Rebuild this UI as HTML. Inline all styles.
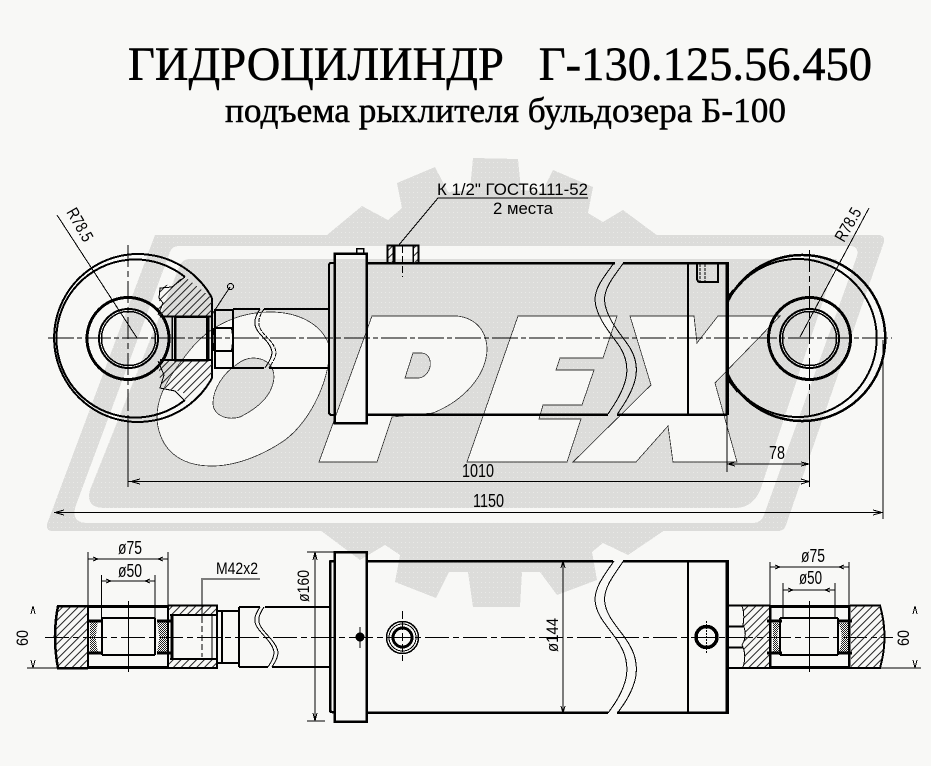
<!DOCTYPE html>
<html><head><meta charset="utf-8"><style>html,body{margin:0;padding:0;background:#f8f8f6}svg{display:block}</style></head><body>
<svg xmlns="http://www.w3.org/2000/svg" width="931" height="766" viewBox="0 0 931 766" shape-rendering="crispEdges">
<defs>
<pattern id="d" width="4" height="5" patternUnits="userSpaceOnUse"><rect width="4" height="5" fill="#dcdcda"/><rect x="1" y="2" width="1" height="1" fill="#e9e9e7"/></pattern>
<pattern id="h" width="5.5" height="5.5" patternUnits="userSpaceOnUse" patternTransform="rotate(45)"><rect width="1" height="5.5" fill="#222"/></pattern>
<pattern id="x" width="2" height="2" patternUnits="userSpaceOnUse"><rect width="1" height="1" fill="#222"/><rect x="1" y="1" width="1" height="1" fill="#222"/></pattern>
</defs>
<rect width="931" height="766" fill="#f8f8f6"/>
<!-- watermark -->
<path fill="url(#d)" d="M327,235 L362,206 L388,220 L402,208 L397,183 L435,167 L448,192 L470,190 L473,158 L518,159 L521,190 L542,192 L553,170 L593,187 L588,213 L603,222 L623,210 L658,236 Z"/>
<path fill="url(#d)" d="M320,530 L360,560 L385,545 L400,555 L395,582 L436,598 L449,572 L468,572 L473,607 L520,607 L522,572 L540,572 L557,595 L597,580 L592,552 L603,543 L628,555 L665,530 Z"/>
<path fill="url(#d)" d="M155,235 H878 Q885,235 884,242 L786,525 Q784,531 778,531 H52 Q46,531 47,524 Z"/>
<path fill="#f8f8f6" d="M180,246 H850 Q859,246 857,256 L764,515 Q761,523 752,523 H88 Q70,523 76,505 L170,252 Q172,246 180,246 Z"/>
<path fill="url(#d)" d="M190,259 H837 L762,485 Q755,508 735,508 H105 Q85,508 90,490 L180,265 Q183,259 190,259Z"/>
<g fill="#f8f8f6" stroke="#333" stroke-width=".8">
<path d="M270,312 C300,312 322,325 329,345 C332,375 312,420 285,440 C262,456 235,466 212,466 C180,466 160,450 157,420 C156,395 170,375 190,350 C210,325 240,312 270,312 Z"/>
<path fill="url(#d)" d="M253,358 C268,358 274,368 274,377 C273,395 258,408 240,417 C225,421 213,414 213,403 C213,388 225,372 236,365 C242,360 248,358 253,358 Z"/>
<path d="M372,316 H457 C475,318 487,330 487,350 C486,375 465,400 433,413 L392,417 L377,462 H319 Z"/>
<path fill="url(#d)" d="M413,353 H422 C430,354 431,362 430,367 C428,375 422,378 418,378 H405 Z"/>
<path d="M518,316 H617 L603,358 H560 L556,370 H594 L582,405 H543 L539,419 H581 L567,462 H467 Z"/>
<path d="M630,316 H694 L697,343 L718,316 H780 L715,383 L737,462 H673 L668,426 L636,462 H573 L651,385 Z"/>
</g>
<!-- titles -->
<text x="128" y="80" font-family="Liberation Serif" font-size="48" textLength="744" lengthAdjust="spacingAndGlyphs" stroke="#000" stroke-width=".5">ГИДРОЦИЛИНДР&#160;&#160;&#160;Г-130.125.56.450</text>
<text x="225" y="122" font-family="Liberation Serif" font-size="35" textLength="561" lengthAdjust="spacingAndGlyphs" stroke="#000" stroke-width=".5">подъема рыхлителя бульдозера Б-100</text>

<!-- top view -->
<g fill="none" stroke="#000">
<g stroke-width="1"><path d="M48,338 H892" stroke-dasharray="26 3 5 3"/><path d="M128,245 V421" stroke-dasharray="22 4 6 4"/><path d="M128,421 V487 M809.5,421 V487"/><path d="M809.5,250 V421" stroke-dasharray="22 4 6 4"/></g>
<!-- left eye -->
<path stroke-width="2" d="M185,277 A79,79 0 1 0 185,400"/>
<path stroke-width="2" d="M212,298 A84,84 0 1 0 212,378 V298"/>
<circle cx="128" cy="338.5" r="41" stroke-width="3"/>
<circle cx="128.5" cy="338.5" r="29.5" stroke-width="2"/>
<circle cx="128.5" cy="338.5" r="27" stroke-width="1.5"/>
<path fill="url(#h)" stroke="none" d="M160,288 L185,277 L212,298 V316 H158 Z"/>
<path fill="url(#h)" stroke="none" d="M158,360 H212 V378 L185,400 L183,392 L165,388 L160,380 Z"/>
<path stroke-width="1" d="M185,277 L172,287 L160,288 L159,298 L163,303 L158,315 M158,361 L164,375 L160,388 L175,391 L184,400"/>
<path stroke-width="2" d="M160,316.5 H212 M160,360 H212"/>
<rect x="175" y="316.5" width="32" height="43.5" stroke-width="2.5"/>
<path stroke-width="1.5" d="M172,317 V360"/>
<path stroke-width="3" d="M208,317 V360"/>
<path stroke-width="1" d="M211,316 L230,287"/>
<circle cx="230.500" cy="286.500" r="3" stroke-width="1"/>
<!-- rod -->
<rect x="215" y="310" width="18" height="58" stroke-width="2"/>
<path stroke-width="2" d="M215,328 H232 Q234,338 232,351 H215 M214,328 Q211,338 214,351"/>
<path stroke-width="2" d="M233,309 H260 M264,309 H329 M233,368 H264 M269,368 H329"/>
<g stroke-width="1"><path id="w1" d="M260,309 C256,315 254,320 255,325 C257,335 270,340 272,352 C272,358 268,363 265,368"/><path d="M264,309 C260,315 258,320 259,325 C261,335 274,340 276,352 C276,358 272,363 269,368" stroke-dasharray="4 1"/></g>
<!-- flange + body -->
<rect x="334.500" y="253.500" width="32" height="169.500" stroke-width="2.500"/>
<path stroke-width="2" d="M334,263 H331 Q329,263 329,266 V412 Q329,415 332,415 H334"/>
<rect x="356.500" y="248.500" width="7" height="5" stroke-width="1.500"/>
<path stroke-width="2.500" d="M367,263 H615 M623,263 H727 M367,414.500 H608 M617,414.500 H727"/>
<path stroke-width="3.500" d="M727,262 V415"/>
<path stroke-width="1.800" d="M688,263 V414"/>
<g stroke-width="1"><path d="M614,263 C603,278 595,288 595,300 C596,318 612,335 620,347 C628,360 628,372 625,382 C621,395 614,405 608,414"/><path d="M623.500,263 C612.500,278 604.500,288 604.500,300 C605.500,318 621.500,335 629.500,347 C637.500,360 637.500,372 634.500,382 C630.500,395 623.500,405 617.500,414"/></g>
<!-- port -->
<path fill="url(#h)" stroke="none" d="M388,246 H393 V263 H388 Z M413,246 H418 V263 H413 Z"/>
<path stroke-width="2" d="M387.500,263 V245.500 H418.500 V263"/>
<path stroke-width="3" d="M394,246 V263"/>
<path stroke-width="1.500" d="M413,246 V263"/>
<path stroke-width="1" d="M402.500,246 V277" stroke-dasharray="7 3"/>
<path stroke-width="1" d="M588,198 H438 L398,246"/>
<path stroke-width="2" d="M697,264 V278 Q697,282 700,282 H718 V264"/>
<path stroke-width="1" d="M700,264 V282 M705,264 V282" stroke-dasharray="3 1"/>
<!-- right eye -->
<path stroke-width="2.500" d="M727,303 A83,83 0 1 1 727,373"/>
<path stroke-width="2" d="M729,299 A79,79 0 1 1 729,377"/>
<path stroke-width="2.500" d="M727,298 L734,290 M727,378 L738,392"/>
<circle cx="809.500" cy="338.500" r="41" stroke-width="3"/>
<circle cx="809.500" cy="338.500" r="29.500" stroke-width="2"/>
<circle cx="809.500" cy="338.500" r="27" stroke-width="1.500"/>
<!-- leaders + dims -->
<g stroke-width="1">
<path d="M57,215 L137,338"/><path d="M869,208 L800,337"/>
<path d="M128,481.500 H809.500 M727,464 H809.500 M727,415 V472 M54,512.500 H883 M883,340 V519"/>
<path d="M140,479 L131,481.500 L140,484 M801,479 L809,481.500 L801,484 M735,462 L728,464 L735,466 M801,462 L809,464 L801,466 M64,510 L55,512.500 L64,515 M873,510 L882,512.500 L873,515"/>
</g>
</g>
<g font-family="Liberation Sans" fill="#000">
<text x="437" y="195" font-size="17" textLength="151" lengthAdjust="spacingAndGlyphs">К 1/2" ГОСТ6111-52</text>
<text x="493" y="214" font-size="17" textLength="60" lengthAdjust="spacingAndGlyphs">2 места</text>
<text transform="translate(66,212) rotate(60)" font-size="17" textLength="36" lengthAdjust="spacingAndGlyphs">R78.5</text>
<text transform="translate(844,243) rotate(-60)" font-size="17" textLength="36" lengthAdjust="spacingAndGlyphs">R78.5</text>
<text x="462" y="477" font-size="18" textLength="32" lengthAdjust="spacingAndGlyphs">1010</text>
<text x="473" y="507" font-size="18" textLength="31" lengthAdjust="spacingAndGlyphs">1150</text>
<text x="769" y="459" font-size="18" textLength="16" lengthAdjust="spacingAndGlyphs">78</text>
</g>

<!-- bottom view -->
<g fill="none" stroke="#000">
<path stroke-width="1" d="M45,637.500 H893" stroke-dasharray="24 4 6 4"/>
<!-- left bearing -->
<path fill="url(#h)" stroke="none" d="M58,606 H88 V667 H58 Q52,637 58,606 Z M169,606 H216 V615 H169 Z M169,659 H216 V667 H169 Z"/>
<path stroke-width="2.500" d="M88,606 H58 Q52,637 58,668 H88"/>
<path stroke-width="2" d="M88,606 V668"/>
<path stroke-width="3" d="M88,606.500 H168 M88,667.500 H168"/>
<path stroke-width="2" d="M168,605 V669 M168,605.500 H217 V668 H168 M170,615 H216 M170,659 H216"/>
<path stroke-width="2" d="M102,618 H155 M102,655 H155 M102,618 V655 M155,618 V655"/>
<path fill="url(#x)" stroke="none" d="M90,622 H98 Q94,637 98,652 H90 Z M157,622 H167 V652 H157 Q161,637 157,622 Z"/>
<path stroke-width="3" d="M87,621 H101 M87,653 H101 M157,621 H171 M157,653 H171"/>
<path stroke-width="3" d="M172,615 V659"/>
<path stroke-width="1" d="M212,616 V658 M128.500,601 V672"/>
<path stroke-width="1" d="M202,580 V617"/>
<path stroke-width="1" d="M202,617 V657" stroke-dasharray="6 3"/>
<path stroke-width="2" d="M217,611 H222 V663 H217 M222,611 H239 M222,663 H239 M239,607 V667"/>
<path stroke-width="2" d="M239,607 H260 M265,607 H329 M239,667 H268 M272,667 H329"/>
<g stroke-width="1"><path d="M260,607 C256,613 254,618 255,622 C257,632 272,640 274,652 C274,658 271,662 268,667"/><path d="M264,607 C260,613 258,618 259,622 C261,632 276,640 278,652 C278,658 275,662 272,667"/></g>
<rect x="334.500" y="552" width="32" height="169.500" stroke-width="2.500"/>
<path stroke-width="2.500" d="M334,561 H331 Q330,561 330,563 V710 Q330,712 332,712 H334"/>
<path stroke-width="2.500" d="M367,561 H613 M623,561 H727 M367,712.500 H608 M617,712.500 H727"/>
<path stroke-width="3.500" d="M727,560 V714"/>
<path stroke-width="1.800" d="M688,561 V713"/>
<g stroke-width="1"><path d="M614,561 C603,577 595,587 595,600 C596,618 612,630 620,645 C628,658 628,672 625,682 C621,695 614,705 608,713"/><path d="M623.500,561 C612.500,577 604.500,587 604.500,600 C605.500,618 621.500,630 629.500,645 C637.500,658 637.500,672 634.500,682 C630.500,695 623.500,705 617.500,713"/></g>
<circle cx="402.500" cy="637.500" r="16" stroke-width="1.500"/>
<circle cx="402.500" cy="637.500" r="13.500" stroke-width="1"/>
<circle cx="402.500" cy="637.500" r="9.500" stroke-width="3"/>
<path stroke-width="1" d="M402.500,611 V661" stroke-dasharray="8 3"/>
<circle cx="360" cy="637" r="4.500" fill="#000" stroke="none"/>
<path stroke-width="1" d="M360,627 V648"/>
<circle cx="706.500" cy="637" r="10.500" stroke-width="3.500"/>
<path stroke-width="1" d="M706.500,621 V654" stroke-dasharray="2 1"/>
<!-- right bearing -->
<path fill="url(#h)" stroke="none" d="M742,606 H769 V667 H743 Q747,655 742,645 Q748,635 743,625 Q745,615 742,606 Z M851,606 H879 Q888,637 880,667 H851 Z"/>
<path stroke-width="2" d="M727,605.500 H770 M727,668 H770 M727,626.500 H743 M727,647.500 H743"/>
<path stroke-width="1" d="M742,606 Q745,615 743,625 Q748,635 742,645 Q747,655 743,667"/>
<path stroke-width="2.500" d="M770,605 V669 M849,605 V669"/>
<path stroke-width="3" d="M770,606.500 H850 M770,667.500 H850"/>
<path stroke-width="2" d="M850,605.500 H880 Q889,637 880,668 H850"/>
<path stroke-width="2" d="M780,618 H838 M780,655 H838 M780,618 V655 M838,618 V655"/>
<path fill="url(#x)" stroke="none" d="M773,623 H780 Q775,637 780,652 H773 Z M839,623 H848 V652 H839 Q844,637 839,623 Z"/>
<path stroke-width="3" d="M767,621 H782 M767,653 H782 M838,621 H852 M838,653 H852"/>
<path stroke-width="1" d="M809.500,601 V672"/>
<!-- dims -->
<g stroke-width="1">
<path d="M88,552 V606 M168,552 V606 M88,559 H168 M101.500,575 V618 M155,575 V618 M101.500,581 H155"/>
<path d="M93,557 L98,559 L93,561 M163,557 L158,559 L163,561 M106,579 L111,581 L106,583 M150,579 L145,581 L150,583"/>
<path d="M260,579 H201"/>
<path d="M307,552 H334 M307,721 H325 M315,552 V721 M313,560 L315,552 L317,560 M313,713 L315,721 L317,713"/>
<path d="M563,561 V713 M561,568 L563,561 L565,568 M561,706 L563,713 L565,706"/>
<path d="M27,668 H58 M33,606 L31,614 M33,606 L35,614 M33,668 L31,660 M33,668 L35,660"/>
<path d="M880,668 H921 M915,606 L913,614 M915,606 L917,614 M915,668 L913,660 M915,668 L917,660"/>
<path d="M770,562 V606 M849,562 V606 M770,567 H849 M783,583 V618 M835,583 V618 M783,590 H835"/>
<path d="M775,565 L780,567 L775,569 M844,565 L839,567 L844,569 M788,588 L793,590 L788,592 M830,588 L825,590 L830,592"/>
</g>
</g>
<g font-family="Liberation Sans" fill="#000">
<text x="118" y="554" font-size="18" textLength="24" lengthAdjust="spacingAndGlyphs">ø75</text>
<text x="118" y="577" font-size="18" textLength="24" lengthAdjust="spacingAndGlyphs">ø50</text>
<text x="216" y="574" font-size="17" textLength="42" lengthAdjust="spacingAndGlyphs">M42x2</text>
<text x="801" y="562" font-size="18" textLength="24" lengthAdjust="spacingAndGlyphs">ø75</text>
<text x="799" y="584" font-size="18" textLength="23" lengthAdjust="spacingAndGlyphs">ø50</text>
<text transform="translate(309,602) rotate(-90)" font-size="17" textLength="32" lengthAdjust="spacingAndGlyphs">ø160</text>
<text transform="translate(558,652) rotate(-90)" font-size="17" textLength="34" lengthAdjust="spacingAndGlyphs">ø144</text>
<text transform="translate(28,646) rotate(-90)" font-size="17" textLength="16" lengthAdjust="spacingAndGlyphs">60</text>
<text transform="translate(909,646) rotate(-90)" font-size="17" textLength="16" lengthAdjust="spacingAndGlyphs">60</text>
</g>
</svg>
</body></html>
